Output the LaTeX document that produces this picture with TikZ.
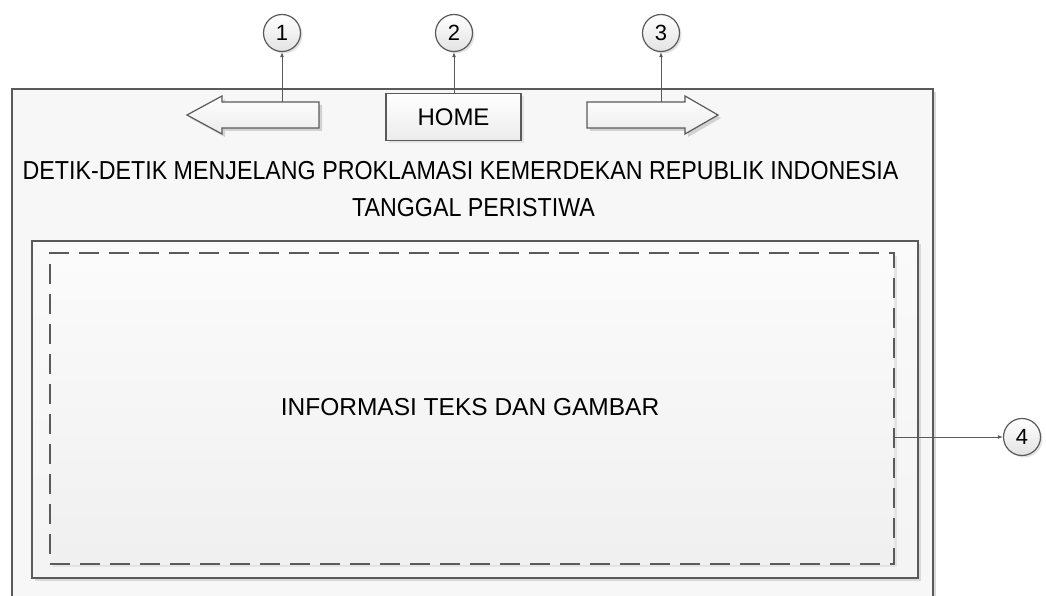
\documentclass[tikz,border=0pt]{standalone}
\usepackage{fontspec}
\setmainfont{Liberation Sans}
\usetikzlibrary{arrows.meta,shadows}
\definecolor{ln}{HTML}{5A5A5A}
\begin{document}
\begin{tikzpicture}[x=1pt,y=-1pt,
  edge/.style={draw=ln,line width=1.5pt},
  conn/.style={draw=ln,line width=1pt,-{Latex[length=5pt,width=4pt]}},
  num/.style={circle,draw=ln,line width=1.2pt,minimum size=37pt,inner sep=0pt,
    top color=white,bottom color=gray!22,font=\fontsize{22}{26}\selectfont,
    drop shadow={shadow xshift=2pt,shadow yshift=-2pt,fill=gray!45}},
  btn/.style={draw=ln,line width=1.2pt,top color=white,bottom color=gray!15,
    drop shadow={shadow xshift=3pt,shadow yshift=-3pt,fill=gray!35}},
  txt/.style={font=\fontsize{24.5}{28}\selectfont,inner sep=0pt},
  ttl/.style={font=\fontsize{26}{30}\selectfont,inner sep=0pt,xscale=0.894}]
\useasboundingbox (0,0) rectangle (1046,596);
% outer frame
\fill[gray!6] (12,89) rectangle (933,596);
\fill[gray!30] (933,92) rectangle (936,596);
\draw[edge] (12,596) -- (12,89) -- (933,89) -- (933,596);
% inner box
\fill[gray!30] (35,244) rectangle (921,581);
\node[draw=ln,line width=1.5pt,minimum width=886pt,minimum height=337pt,inner sep=0pt,
  top color=gray!4,bottom color=gray!9] (inner) at (475,409.5) {};
% dashed box
\fill[gray!22] (53,256) rectangle (897,567);
\node[draw=ln,line width=1.5pt,dash pattern=on 20pt off 10pt,minimum width=844pt,minimum height=311pt,inner sep=0pt,
  top color=gray!3,bottom color=gray!12] (content) at (472,408.5) {};
\node[txt] (info) at (470,407) {INFORMASI TEKS DAN GAMBAR};
% title
\node[ttl] (title) at (460.5,171) {DETIK-DETIK MENJELANG PROKLAMASI KEMERDEKAN REPUBLIK INDONESIA};
\node[ttl] (date) at (473.5,208) {TANGGAL PERISTIWA};
% left arrow
\fill[gray!35] (190,118) -- (225,99) -- (225,105) -- (322,105) -- (322,131) -- (225,131) -- (225,137) -- cycle;
\draw[edge,line width=1.2pt,top color=white,bottom color=gray!15] (187,115) -- (222,96) -- (222,102) -- (319,102) -- (319,128) -- (222,128) -- (222,134) -- cycle;
\coordinate (la) at (282,102);
% right arrow
\fill[gray!35] (590,105) -- (688,105) -- (688,99) -- (721,118) -- (688,137) -- (688,131) -- (590,131) -- cycle;
\draw[edge,line width=1.2pt,top color=white,bottom color=gray!15] (587,102) -- (685,102) -- (685,96) -- (718,115) -- (685,134) -- (685,128) -- (587,128) -- cycle;
\coordinate (ra) at (661,102);
% home
\node[btn,minimum width=135pt,minimum height=47pt,inner sep=0pt,font=\fontsize{24}{28}\selectfont] (home) at (453.5,117) {HOME};
% callouts
\node[num] (n1) at (282,33) {1};
\node[num] (n2) at (454,33) {2};
\node[num] (n3) at (661,33) {3};
\node[num] (n4) at (1022,437) {4};
\draw[conn] (la) -- (n1);
\draw[conn] (home.north -| n2) -- (n2);
\draw[conn] (ra) -- (n3);
\draw[conn] (content.east |- n4) -- (n4);
\end{tikzpicture}
\end{document}
